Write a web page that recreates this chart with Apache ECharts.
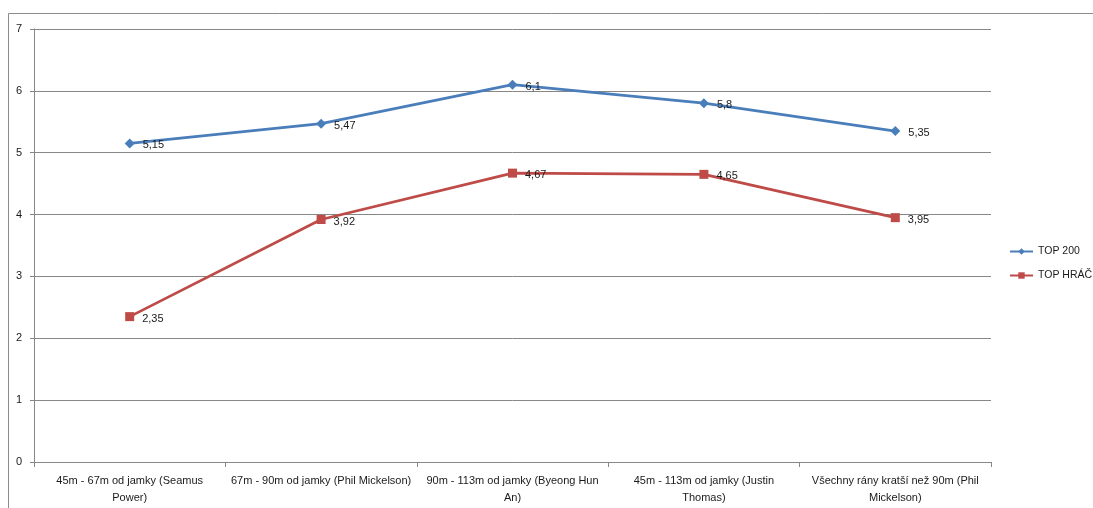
<!DOCTYPE html>
<html>
<head>
<meta charset="utf-8">
<script src="https://cdn.jsdelivr.net/npm/echarts@6/dist/echarts.min.js"></script>
<style>
  html, body { margin: 0; padding: 0; background: #fff; }
  #chart { width: 1093px; height: 508px; }
</style>
</head>
<body>
<div id="chart"></div>
<script>
// Shot distance categories (with the best player in each)
const categories = [
  '45m - 67m od jamky (Seamus Power)',
  '67m - 90m od jamky (Phil Mickelson)',
  '90m - 113m od jamky (Byeong Hun An)',
  '45m - 113m od jamky (Justin Thomas)',
  'Všechny rány kratší než 90m (Phil Mickelson)'
];
// Wrapped axis text for each category
const tickLabels = [
  '45m - 67m od jamky (Seamus\nPower)',
  '67m - 90m od jamky (Phil Mickelson)',
  '90m - 113m od jamky (Byeong Hun\nAn)',
  '45m - 113m od jamky (Justin\nThomas)',
  'Všechny rány kratší než 90m (Phil\nMickelson)'
];
const top200 = [5.15, 5.47, 6.1, 5.8, 5.35];
const topHrac = [2.35, 3.92, 4.67, 4.65, 3.95];
const yTicks = [0, 1, 2, 3, 4, 5, 6, 7];

const FONT = 'Liberation Sans';
const GRID = '#878787';

const chart = echarts.init(document.getElementById('chart'), null, { renderer: 'canvas' });

const labelCfg = {
  show: true,
  position: 'right',
  distance: 8,
  offset: [0, 2],
  color: '#1a1a1a',
  fontFamily: FONT,
  fontSize: 11,
  formatter: p => String(p.value).replace('.', ',')
};

chart.setOption({
  animation: false,
  backgroundColor: '#fff',
  textStyle: { fontFamily: FONT },
  graphic: [{
    type: 'rect',
    shape: { x: 8.5, y: 13.5, width: 1200, height: 600 },
    style: { fill: 'none', stroke: '#8c8c8c', lineWidth: 1 },
    silent: true
  }],
  grid: { left: 34, right: 102, top: 29, bottom: 46, containLabel: false },
  legend: {
    orient: 'vertical',
    left: 1009,
    top: 246,
    padding: 0,
    itemWidth: 23,
    itemHeight: 8,
    itemGap: 13,
    textStyle: { fontFamily: FONT, fontSize: 10.5, color: '#1a1a1a' },
    data: ['TOP 200', 'TOP HRÁČ']
  },
  xAxis: {
    type: 'category',
    data: categories,
    boundaryGap: true,
    axisLine: { lineStyle: { color: GRID, width: 1 } },
    axisTick: { show: true, length: 5, lineStyle: { color: GRID } },
    axisLabel: {
      interval: 0,
      margin: 10,
      color: '#1a1a1a',
      fontFamily: FONT,
      fontSize: 11,
      lineHeight: 17,
      formatter: (v, i) => tickLabels[i]
    },
    splitLine: { show: false }
  },
  yAxis: {
    type: 'value',
    min: yTicks[0],
    max: yTicks[yTicks.length - 1],
    interval: 1,
    axisLine: { show: true, lineStyle: { color: GRID, width: 1 } },
    axisTick: { show: true, length: 4, lineStyle: { color: GRID } },
    axisLabel: { margin: 12, color: '#1a1a1a', fontFamily: FONT, fontSize: 11 },
    splitLine: { show: true, lineStyle: { color: GRID, width: 1 } }
  },
  series: [
    {
      name: 'TOP 200',
      type: 'line',
      data: top200,
      symbol: 'diamond',
      symbolSize: 10,
      color: '#4a7ebb',
      lineStyle: { width: 2.75, color: '#4a7ebb' },
      itemStyle: { color: '#4a7ebb' },
      label: labelCfg
    },
    {
      name: 'TOP HRÁČ',
      type: 'line',
      data: topHrac,
      symbol: 'rect',
      symbolSize: 9,
      color: '#be4b48',
      lineStyle: { width: 2.75, color: '#be4b48' },
      itemStyle: { color: '#be4b48' },
      label: labelCfg
    }
  ]
});
</script>
</body>
</html>
